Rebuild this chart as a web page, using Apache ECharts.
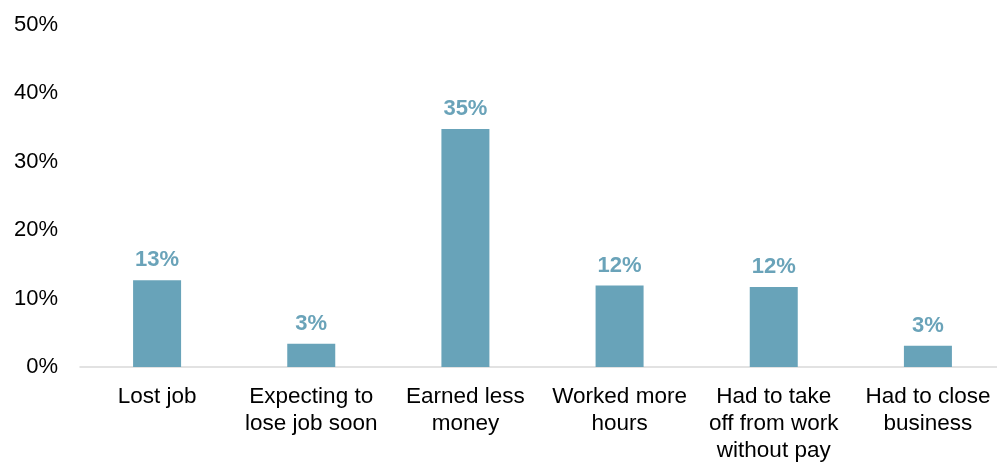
<!DOCTYPE html>
<html>
<head>
<meta charset="utf-8">
<script src="https://cdn.jsdelivr.net/npm/echarts@6/dist/echarts.min.js"></script>
<style>html,body{margin:0;padding:0;background:#fff;overflow:hidden;width:997px;height:464px}#c{width:1005px;height:464px}</style>
</head>
<body>
<div id="c"></div>
<script>
const categories = ["Lost job", "Expecting to\nlose job soon", "Earned less\nmoney", "Worked more\nhours", "Had to take\noff from work\nwithout pay", "Had to close\nbusiness"];
const values = [12.7, 3.4, 34.8, 11.9, 11.7, 3.1];
const yTicks = [0, 10, 20, 30, 40, 50];

const chart = echarts.init(document.getElementById('c'), null, {renderer: 'canvas'});
chart.setOption({
  animation: false,
  grid: {left: 80, right: 0, top: 25, bottom: 97, containLabel: false},
  xAxis: {
    type: 'category',
    data: categories,
    axisLine: {lineStyle: {color: '#d9d9d9', width: 1.5}},
    axisTick: {show: false},
    axisLabel: {color: '#000', fontSize: 22.5, fontFamily: 'Liberation Sans, Arial', lineHeight: 27, margin: 16, interval: 0}
  },
  yAxis: {
    type: 'value',
    min: yTicks[0], max: yTicks[yTicks.length - 1], interval: 10,
    splitLine: {show: false},
    axisLine: {show: false},
    axisTick: {show: false},
    axisLabel: {color: '#000', fontSize: 22, fontFamily: 'Liberation Sans, Arial', margin: 22, formatter: v => v + '%'}
  },
  series: [{
    type: 'bar',
    data: values,
    barWidth: 48,
    itemStyle: {color: '#68a3b9'},
    label: {
      show: true, position: 'top', distance: 9,
      color: '#6aa3b9', fontSize: 22, fontWeight: 'bold', fontFamily: 'Liberation Sans, Arial',
      formatter: p => Math.round(p.value) + '%'
    }
  }]
});
</script>
</body>
</html>
